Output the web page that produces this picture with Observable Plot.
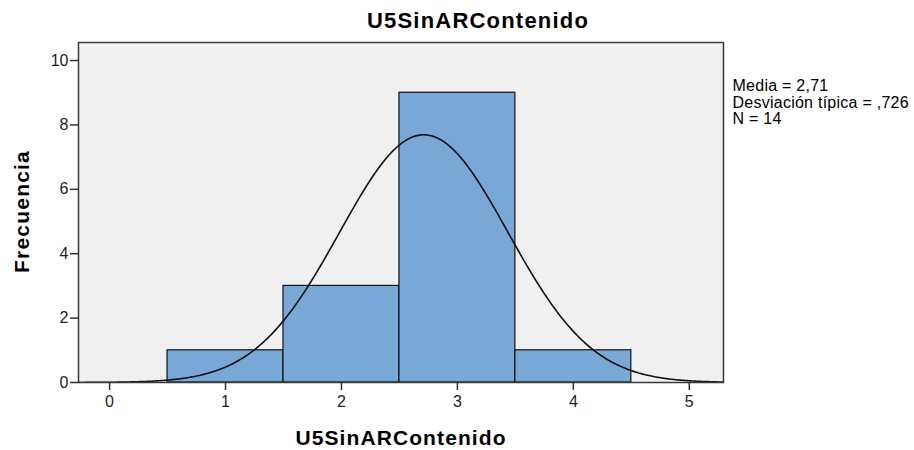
<!DOCTYPE html>
<html><head><meta charset="utf-8">
<script src="https://cdn.jsdelivr.net/npm/d3@7"></script>
<script src="https://cdn.jsdelivr.net/npm/@observablehq/plot@0.6"></script>
<style>body{margin:0;background:#fff;font-family:"Liberation Sans",Arial,sans-serif}</style>
</head><body><div id="chart"></div>
<script>
const binStarts = [0.5, 1.5, 2.5, 3.5];
const binEnds = [1.5, 2.5, 3.5, 4.5];
const counts = [1, 3, 9, 1];
const xTicks = [0, 1, 2, 3, 4, 5];
const yTicks = [0, 2, 4, 6, 8, 10];
const mean = 2.71, sd = 0.726, n = 14, binWidth = 1;
const statsLines = ["Media = 2,71", "Desviación típica = ,726", "N = 14"];
const titleText = "U5SinARContenido";
const xLabel = "U5SinARContenido";
const yLabel = "Frecuencia";

const xDomain = [-0.268, 5.295];
const yDomain = [0, 10.56];

const bars = counts.map((c, i) => ({x1: binStarts[i], x2: binEnds[i], y: c}));
// fitted normal curve from the chart's own mean, sd and N
const curve = d3.range(xDomain[0], xDomain[1] + 1e-9, 0.01).map(x => ({
  x, y: n * binWidth * Math.exp(-0.5 * ((x - mean) / sd) ** 2) / (sd * Math.sqrt(2 * Math.PI))
}));

const chart = Plot.plot({
  width: 914, height: 450,
  marginLeft: 78, marginRight: 191, marginTop: 42, marginBottom: 68,
  style: {fontFamily: '"Liberation Sans", Arial, sans-serif', background: "#fff"},
  x: {domain: xDomain},
  y: {domain: yDomain},
  marks: [
    Plot.frame({fill: "#f0f0f0", stroke: null}),
    Plot.rectY(bars, {x1: "x1", x2: "x2", y: "y", fill: "#79a8d7", stroke: "#111", strokeWidth: 1.2}),
    Plot.line(curve, {x: "x", y: "y", stroke: "#111", strokeWidth: 1.6, clip: true}),
    Plot.frame({stroke: "#3a3a3a", strokeWidth: 1.5}),
    Plot.axisY({ticks: yTicks, tickFormat: "d", tickSize: 8, tickPadding: 2, label: null, fontSize: 16, color: "#222", stroke: "#333", strokeWidth: 1.5}),
    Plot.axisX({ticks: xTicks, tickFormat: "d", tickSize: 8, tickPadding: 5, label: null, fontSize: 16, color: "#222", stroke: "#333", strokeWidth: 1.5}),
    Plot.text([titleText], {frameAnchor: "top", dx: 77, dy: -22, fontSize: 22, fontWeight: "bold", fill: "#000", textAnchor: "middle", lineAnchor: "middle"}),
    Plot.text([xLabel], {frameAnchor: "bottom", dy: 56, fontSize: 21, fontWeight: "bold", fill: "#000", textAnchor: "middle", lineAnchor: "middle"}),
    Plot.text([yLabel], {frameAnchor: "left", dx: -56, dy: -1, rotate: -90, fontSize: 21, fontWeight: "bold", fill: "#000", textAnchor: "middle", lineAnchor: "middle"}),
    Plot.text([statsLines.join("\n")], {frameAnchor: "top-right", dx: 9, dy: 36, textAnchor: "start", lineAnchor: "top", fontSize: 16, lineHeight: 1.06, fill: "#000"})
  ]
});
const texts = Array.from(chart.querySelectorAll("text"));
const named = texts.filter(t => t.textContent === titleText);
if (named[0]) named[0].style.letterSpacing = "1.2px";
if (named[1]) named[1].style.letterSpacing = "1.1px";
texts.filter(t => t.textContent === yLabel).forEach(t => t.style.letterSpacing = "1.2px");
texts.filter(t => statsLines.some(s => t.textContent.includes(s))).forEach(t => t.style.letterSpacing = "0.25px");
document.getElementById("chart").appendChild(chart);
</script>
</body></html>
